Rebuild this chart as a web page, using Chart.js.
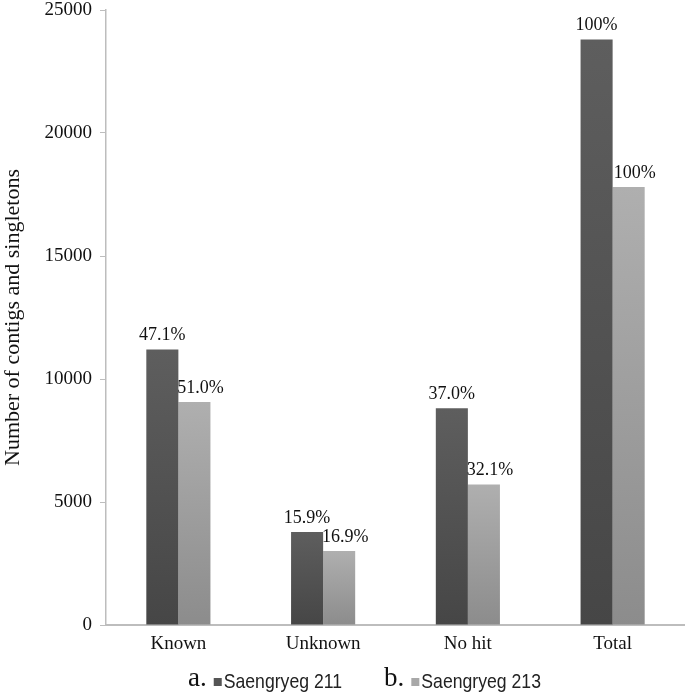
<!DOCTYPE html>
<html>
<head>
<meta charset="utf-8">
<script src="https://cdn.jsdelivr.net/npm/chart.js@4"></script>
<style>
  html, body { margin: 0; padding: 0; background: #fff; }
  #wrap { width: 685px; height: 696px; position: relative; }
</style>
</head>
<body>
<div id="wrap"><canvas id="chart"></canvas></div>
<script>
const categories = ['Known', 'Unknown', 'No hit', 'Total'];
const seriesNames = ['Saengryeg 211', 'Saengryeg 213'];
const seriesPrefix = ['a.', 'b.'];
const saengryeg211 = [11200, 3780, 8810, 23800];
const saengryeg213 = [9070, 3010, 5710, 17800];
const pct211 = ['47.1%', '15.9%', '37.0%', '100%'];
const pct213 = ['51.0%', '16.9%', '32.1%', '100%'];
const yMax = 25000;
const yStep = 5000;

const serif = '"Liberation Serif", "Times New Roman", serif';
const sans = '"Liberation Sans", Arial, sans-serif';

// vertical gradient per bar, from its top down to the axis
function barGradient(top, bottom) {
    return ctx => {
        const chart = ctx.chart;
        const area = chart.chartArea;
        if (!area || ctx.type !== 'data') return top;
        const y0 = chart.scales.y.getPixelForValue(ctx.raw);
        const g = chart.ctx.createLinearGradient(0, y0, 0, area.bottom);
        g.addColorStop(0, top);
        g.addColorStop(1, bottom);
        return g;
    };
}

const pctLabels = {
    id: 'pctLabels',
    afterDatasetsDraw(chart) {
        const ctx = chart.ctx;
        const labels = [pct211, pct213];
        ctx.save();
        ctx.font = '18px ' + serif;
        ctx.fillStyle = '#111';
        ctx.textAlign = 'center';
        ctx.textBaseline = 'bottom';
        chart.data.datasets.forEach((ds, i) => {
            chart.getDatasetMeta(i).data.forEach((bar, j) => {
                ctx.fillText(labels[i][j], bar.x + (i === 1 ? 6 : 0), bar.y - 5);
            });
        });
        ctx.restore();
    }
};

// legend with a serif "a." / "b." before each swatch, labels in a condensed sans
const prefixLegend = {
    id: 'prefixLegend',
    afterDraw(chart) {
        const ctx = chart.ctx;
        const y = 682;
        const squeeze = 0.84;
        let x = 188;
        ctx.save();
        ctx.textBaseline = 'middle';
        ctx.textAlign = 'left';
        chart.data.datasets.forEach((ds, i) => {
            ctx.font = '27px ' + serif;
            ctx.fillStyle = '#111';
            ctx.fillText(seriesPrefix[i], x, y - 3);
            x += ctx.measureText(seriesPrefix[i]).width + 7;
            ctx.fillStyle = ds.legendColor;
            ctx.fillRect(x, y - 4, 8, 8);
            x += 10;
            ctx.font = '21px ' + sans;
            ctx.fillStyle = '#222';
            ctx.save();
            ctx.translate(x, y);
            ctx.scale(squeeze, 1);
            ctx.fillText(ds.label, 0, 0);
            ctx.restore();
            x += ctx.measureText(ds.label).width * squeeze + 42;
        });
        ctx.restore();
    }
};

new Chart(document.getElementById('chart'), {
    type: 'bar',
    data: {
        labels: categories,
        datasets: [
            {
                label: seriesNames[0],
                data: saengryeg211,
                backgroundColor: barGradient('#5e5e5e', '#464646'),
                legendColor: '#555555',
                borderWidth: 0
            },
            {
                label: seriesNames[1],
                data: saengryeg213,
                backgroundColor: barGradient('#afafaf', '#8c8c8c'),
                legendColor: '#a8a8a8',
                borderWidth: 0
            }
        ]
    },
    options: {
        responsive: true,
        maintainAspectRatio: false,
        animation: false,
        categoryPercentage: 0.443,
        barPercentage: 1.0,
        layout: { padding: { top: 10, right: 0, bottom: 0, left: 0 } },
        plugins: {
            legend: { display: false },
            tooltip: { enabled: false }
        },
        scales: {
            x: {
                grid: { display: false, drawTicks: false },
                border: { color: '#bdbdbd', width: 2 },
                ticks: {
                    color: '#111',
                    padding: 8,
                    font: { family: serif, size: 19 }
                },
                afterFit: scale => { scale.height = 71; }
            },
            y: {
                min: 0,
                max: yMax,
                ticks: {
                    stepSize: yStep,
                    color: '#111',
                    padding: 8,
                    font: { family: serif, size: 19 },
                    callback: v => String(v)
                },
                grid: {
                    drawOnChartArea: false,
                    drawTicks: true,
                    tickLength: 6,
                    color: '#bdbdbd'
                },
                border: { color: '#bdbdbd', width: 1.5 },
                title: {
                    display: true,
                    text: 'Number of contigs and singletons',
                    color: '#111',
                    padding: 0,
                    font: { family: serif, size: 22 }
                },
                afterFit: scale => {
                    scale.width = 106;
                    scale.paddingTop = 0;
                    scale.paddingBottom = 0;
                }
            }
        }
    },
    plugins: [pctLabels, prefixLegend]
});
</script>
</body>
</html>
